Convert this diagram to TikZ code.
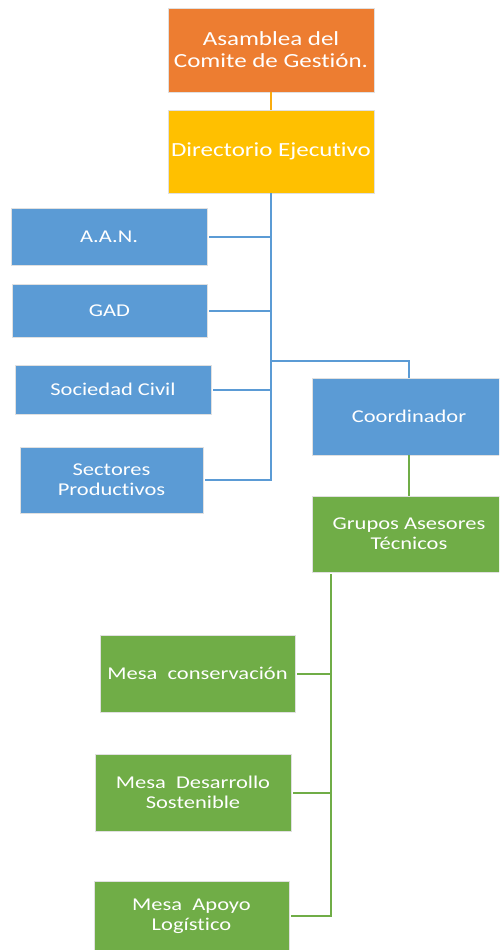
\documentclass[tikz,border=0pt]{standalone}
\usepackage{fontspec}
\setmainfont[FakeStretch=1.25, Ligatures=NoCommon]{Carlito}
\usepackage{tikz}
\usetikzlibrary{positioning}
\definecolor{asamorange}{HTML}{ED7D31}
\definecolor{dirgold}{HTML}{FFC000}
\definecolor{orgblue}{HTML}{5B9BD5}
\definecolor{orggreen}{HTML}{70AD47}
\tikzstyle{unit}=[
	rectangle,
	draw=white!88!black,
	line width=0.6pt,
	text=white,
	align=center,
	inner sep=0pt,
	font=\fontsize{18}{20}\selectfont
]
\tikzstyle{top}=[unit, fill=asamorange, minimum width=206pt, minimum height=84pt, font=\fontsize{20}{22}\selectfont]
\tikzstyle{dir}=[unit, fill=dirgold, minimum width=206pt, minimum height=83pt, font=\fontsize{20}{22}\selectfont]
\tikzstyle{blu}=[unit, fill=orgblue]
\tikzstyle{grn}=[unit, fill=orggreen]
\tikzstyle{link}=[-, line width=2pt]

\begin{document}
\begin{tikzpicture}[x=1pt, y=-1pt]
\useasboundingbox (0,0) rectangle (499,950);
\clip (0,0) rectangle (499,950);

\node[top] at (271, 50) (asam) {Asamblea del\\Comite de Gesti\'on.};
\node[dir] at (271, 151.5) (direc) {Directorio Ejecutivo};

\foreach \x/\y/\w/\h/\name/\txt in {109/236.5/196/57/aan/A.A.N., 109.5/310.5/195/53/gad/GAD,
    113/389.5/196/49/soc/Sociedad Civil, 111.5/480/183/66/sect/Sectores\\Productivos}{
    \node[blu, minimum width=\w pt, minimum height=\h pt] at (\x, \y) (\name) {\txt};
}
\node[blu, minimum width=194pt, minimum height=77pt] at (409, 416.5) (coord) {Coordinador};
\node[grn, minimum width=194pt, minimum height=76pt] at (409, 534) (gat) {Grupos Asesores\\T\'ecnicos};

\foreach \x/\y/\w/\h/\name/\txt in {197.5/673.5/195/77/mcons/Mesa\ \ conservaci\'on,
    193/792.5/196/77/mdes/Mesa\ \ Desarrollo\\Sostenible, 191.5/916/195/70/mapoyo/Mesa\ \ Apoyo\\Log\'istico}{
    \node[grn, minimum width=\w pt, minimum height=\h pt] at (\x, \y) (\name) {\txt};
}

\coordinate (cbend) at (409, 361);
\coordinate (gtop) at (331, 574);

\draw[link, dirgold!70!asamorange] (asam.south) -- (direc.north);

\draw[link, orgblue] (direc.south) -- (direc.south |- sect.east) -- ([xshift=2pt]sect.east);
\foreach \n in {aan, gad, soc}{
    \draw[link, orgblue] ([xshift=2pt]\n.east) -- (\n.east -| direc.south);
}
\draw[link, orgblue] (direc.south |- cbend) -- (cbend) -- (coord.north);

\draw[link, orggreen] (coord.south) -- (gat.north);
\draw[link, orggreen] (gtop) -- (gtop |- mapoyo.east) -- ([xshift=2pt]mapoyo.east);
\foreach \n in {mcons, mdes}{
    \draw[link, orggreen] ([xshift=2pt]\n.east) -- (\n.east -| gtop);
}
\end{tikzpicture}
\end{document}
